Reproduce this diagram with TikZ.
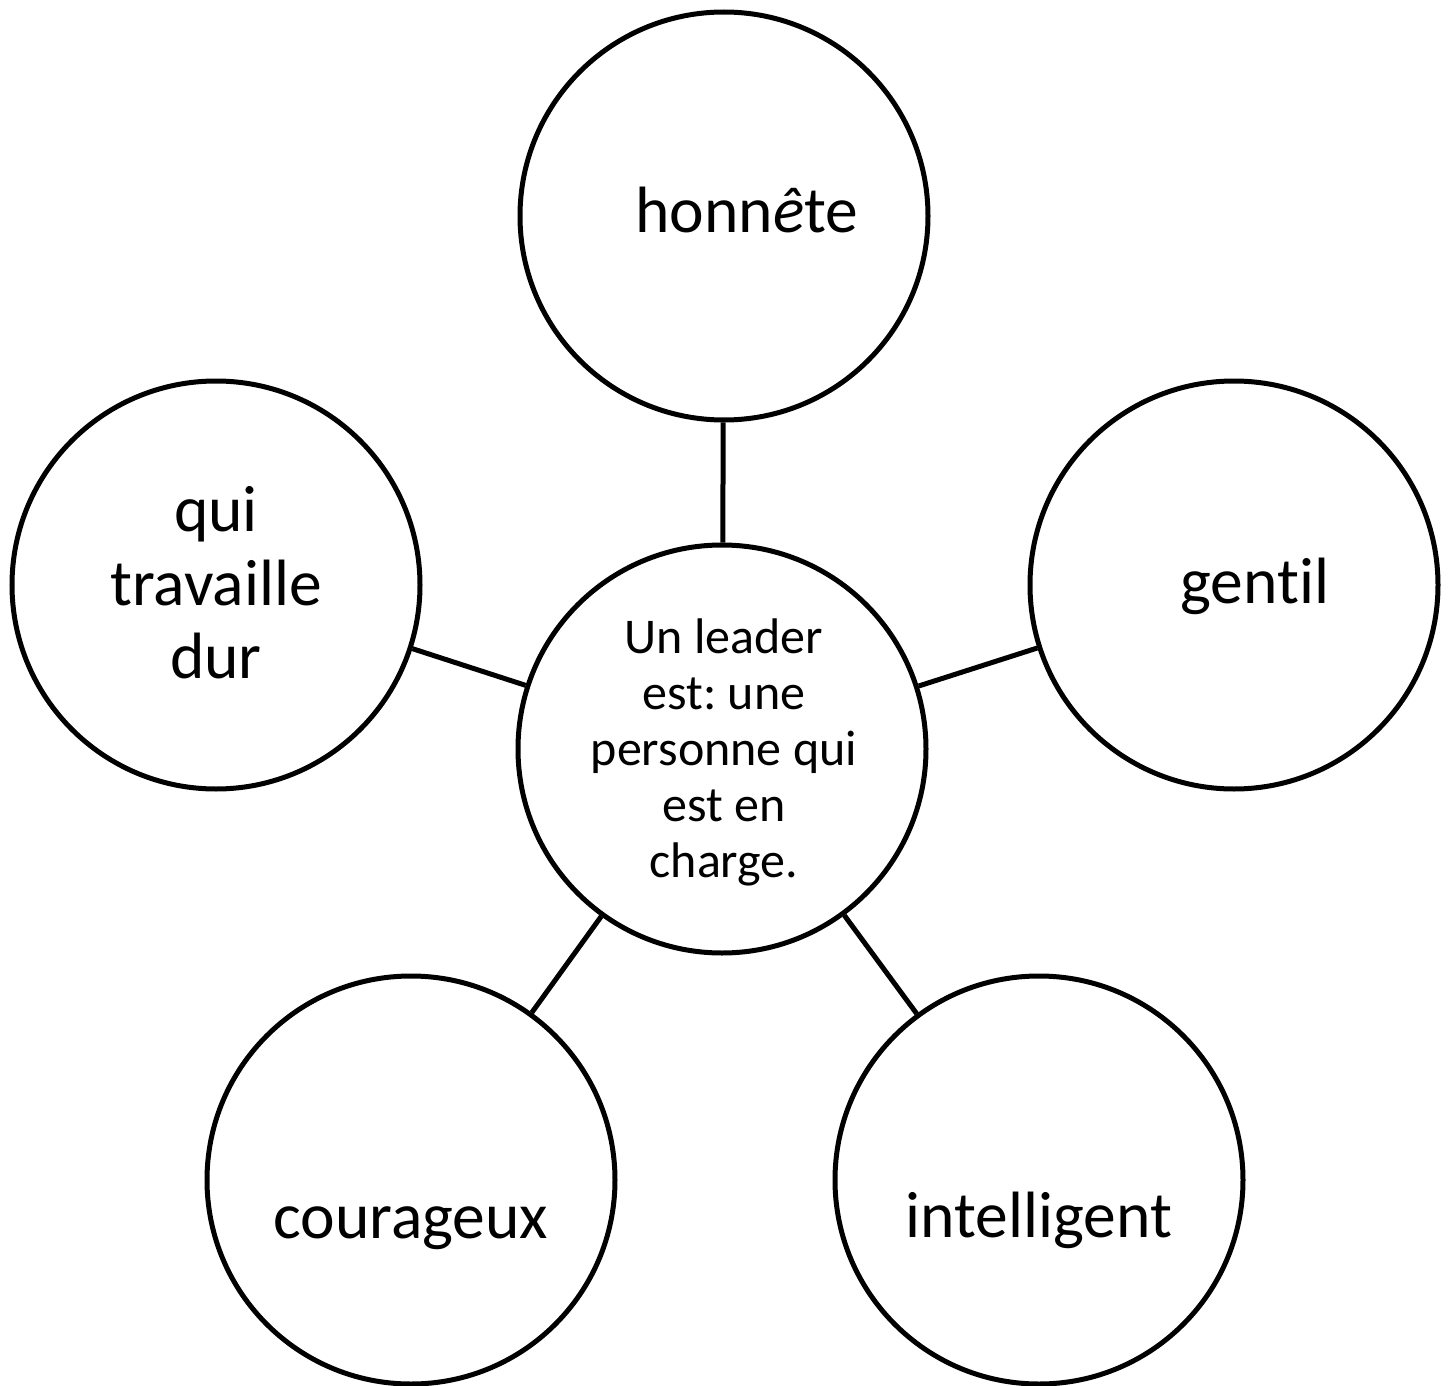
\documentclass[tikz,border=0pt]{standalone}
\usepackage{fontspec}
\setmainfont[Ligatures=NoCommon]{Carlito}
\frenchspacing
\begin{document}
\begin{tikzpicture}[x=1pt,y=-1pt,
  bubble/.style={draw=black,circle,line width=5pt,minimum size=408pt,inner sep=0pt},
  big/.style={font=\fontsize{65.5}{73.5}\selectfont,align=center,inner sep=0pt},
  small/.style={font=\fontsize{50}{56}\selectfont,align=center,inner sep=0pt},
  link/.style={line width=5pt}]
\useasboundingbox (0,0) rectangle (1452,1386);
\node[bubble] (c) at (722,749) {};
\node[bubble] (t) at (724,216) {};
\node[bubble] (r) at (1234,585) {};
\node[bubble] (l) at (216,585) {};
\node[bubble] (bl) at (411,1180) {};
\node[bubble] (br) at (1039,1180) {};
\node[small] (ct) at (724,752) {Un leader\\est: une\\personne qui\\est en\\charge.};
\node[big,anchor=base] (tt) at (747,232) {honn{\itshape ê}te};
\node[big,anchor=base] (rt) at (1255,603) {gentil};
\node[big] (lt) at (216,583) {qui\\travaille\\dur};
\node[big,anchor=base] (blt) at (411,1238) {courageux};
\node[big,anchor=base] (brt) at (1039,1237) {intelligent};
\draw[link] (c) -- (t);
\draw[link] (c) -- (r);
\draw[link] (c) -- (l);
\draw[link] (c) -- (bl);
\draw[link] (c) -- (br);
\end{tikzpicture}
\end{document}
